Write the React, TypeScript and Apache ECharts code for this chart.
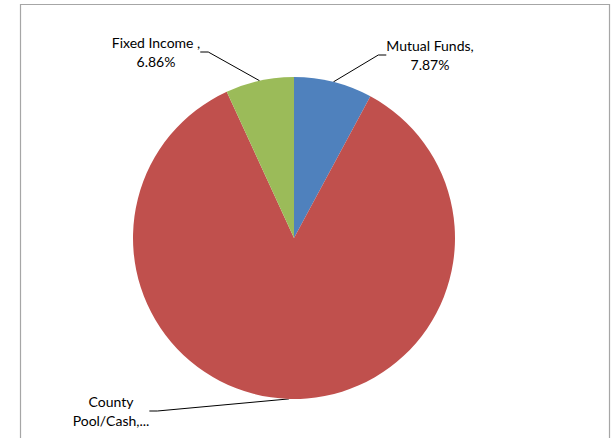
import React, { useEffect, useRef } from "react";
import * as echarts from "echarts";

const categories = ["Mutual Funds", "County Pool/Cash", "Fixed Income "];
const values = [7.87, 85.27, 6.86];
const labelTexts = ["Mutual Funds,\n7.87%", "County\nPool/Cash,...", "Fixed Income ,\n6.86%"];
const colors = ["#4f81bd", "#c0504d", "#9bbb59"];

export default function App() {
  const ref = useRef<HTMLDivElement>(null);
  useEffect(() => {
    if (!ref.current) return;
    const chart = echarts.init(ref.current, null, { renderer: "svg" });
    const labelPos = [
      { x: 430, y: 55 },
      { x: 111, y: 411 },
      { x: 156, y: 52 },
    ];
    chart.setOption({
      animation: false,
      backgroundColor: "#ffffff",
      graphic: [
        {
          type: "rect",
          shape: { x: 20.5, y: 4.5, width: 589, height: 460 },
          style: { fill: "none", stroke: "#a6a6a6", lineWidth: 1.2 },
          silent: true,
        },
      ],
      series: [
        {
          type: "pie",
          center: [294, 238],
          radius: 161,
          startAngle: 90,
          clockwise: true,
          data: categories.map((c, i) => ({
            name: c,
            value: values[i],
            itemStyle: { color: colors[i] },
            label: { formatter: labelTexts[i] },
          })),
          label: {
            show: true,
            position: "outside",
            color: "#000000",
            fontFamily: "Lato, 'Open Sans', sans-serif",
            fontSize: 14,
            lineHeight: 19,
            align: "center",
          },
          labelLine: {
            show: true,
            length: 15,
            length2: 8,
            lineStyle: { color: "#000000", width: 1 },
          },
          labelLayout: (params: any) => {
            const p = labelPos[params.dataIndex];
            return { x: p.x, y: p.y, align: "center", verticalAlign: "middle" };
          },
        },
      ],
    });
    return () => chart.dispose();
  }, []);
  return (
    <div
      ref={ref}
      style={{ position: "fixed", left: 0, top: 0, width: 615, height: 438 }}
    />
  );
}
